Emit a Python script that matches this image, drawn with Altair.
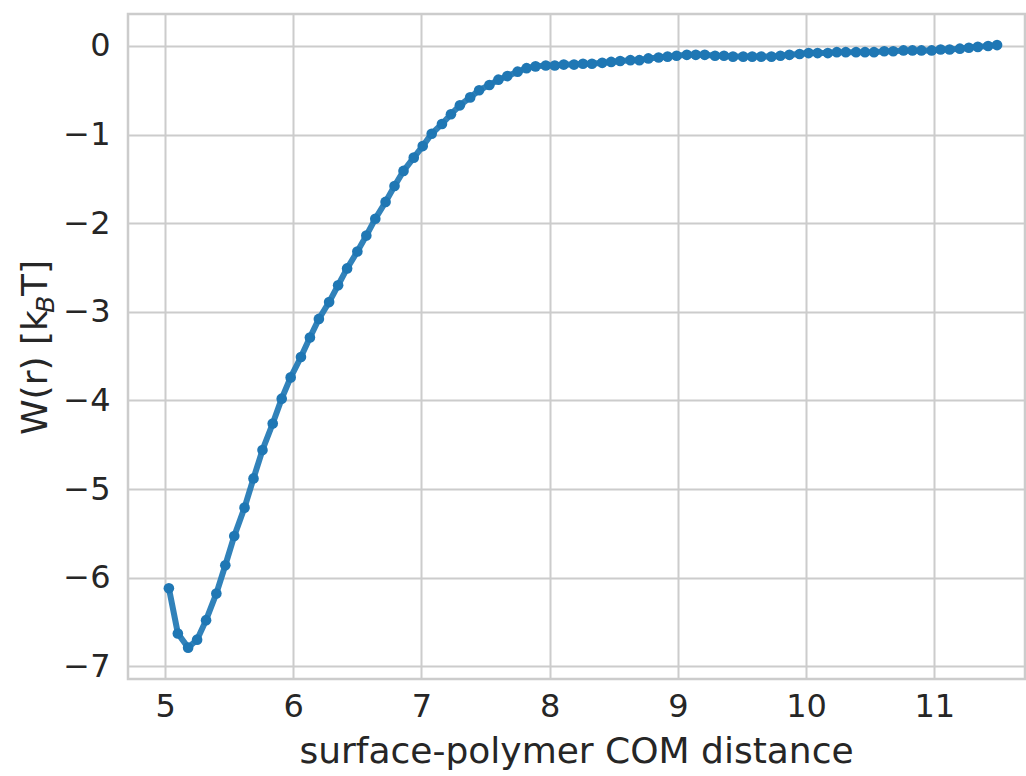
import altair as alt
import pandas as pd

# data
x_vals = [5.03, 5.10, 5.18, 5.25, 5.32, 5.40, 5.47, 5.54, 5.62, 5.69,
          5.76, 5.84, 5.91, 5.98, 6.06, 6.13, 6.20, 6.28, 6.35, 6.42,
          6.50, 6.57, 6.64, 6.72, 6.79, 6.86, 6.94, 7.01, 7.08, 7.16,
          7.23, 7.30, 7.38, 7.45, 7.53, 7.60, 7.67, 7.75, 7.82, 7.89,
          7.97, 8.04, 8.11, 8.19, 8.26, 8.33, 8.41, 8.48, 8.55, 8.63,
          8.70, 8.77, 8.85, 8.92, 8.99, 9.07, 9.14, 9.21, 9.29, 9.36,
          9.43, 9.51, 9.58, 9.65, 9.73, 9.80, 9.87, 9.95, 10.02, 10.09,
          10.17, 10.24, 10.31, 10.39, 10.46, 10.53, 10.61, 10.68, 10.76, 10.83,
          10.90, 10.98, 11.05, 11.12, 11.20, 11.27, 11.34, 11.42, 11.49]
w_vals = [-6.12, -6.63, -6.79, -6.70, -6.48, -6.18, -5.86, -5.53, -5.21, -4.88,
          -4.56, -4.26, -3.98, -3.74, -3.51, -3.29, -3.08, -2.89, -2.70, -2.51,
          -2.32, -2.14, -1.95, -1.76, -1.58, -1.41, -1.26, -1.13, -0.99, -0.88,
          -0.77, -0.67, -0.58, -0.50, -0.44, -0.38, -0.34, -0.29, -0.25, -0.23,
          -0.22, -0.22, -0.21, -0.21, -0.20, -0.20, -0.19, -0.18, -0.17, -0.16,
          -0.16, -0.14, -0.13, -0.12, -0.11, -0.10, -0.10, -0.10, -0.11, -0.11,
          -0.12, -0.12, -0.12, -0.12, -0.12, -0.11, -0.10, -0.09, -0.08, -0.08,
          -0.08, -0.07, -0.07, -0.07, -0.07, -0.07, -0.06, -0.06, -0.05, -0.05,
          -0.05, -0.05, -0.04, -0.04, -0.03, -0.02, -0.01, 0.00, 0.01]
x_ticks = [5, 6, 7, 8, 9, 10, 11]
y_ticks = [0, -1, -2, -3, -4, -5, -6, -7]

df = pd.DataFrame({"r": x_vals, "W": w_vals})

BLUE = "#1f77b4"
TEXT = "#262626"
FONT = "DejaVu Sans"

xenc = alt.X("r:Q",
             scale=alt.Scale(domain=[4.711, 11.708], nice=False, zero=False),
             axis=alt.Axis(values=x_ticks, title=None, labelPadding=12))
yenc = alt.Y("W:Q",
             scale=alt.Scale(domain=[-7.144, 0.361], nice=False, zero=False),
             axis=alt.Axis(values=y_ticks, title=None, labelPadding=18))

base = alt.Chart(df)
line = base.mark_line(color=BLUE, strokeWidth=6, strokeOpacity=0.92).encode(x=xenc, y=yenc)
pts = base.mark_circle(color=BLUE, size=113, opacity=1).encode(x=xenc, y=yenc)

one = pd.DataFrame({"k": [0]})
txt_style = dict(font=FONT, color=TEXT, fontSize=36)

ytitle1 = alt.Chart(one).mark_text(text="W(r) [k", angle=270, align="left",
                                   baseline="alphabetic", **txt_style).encode(
    x=alt.value(-81), y=alt.value(421))
ytitle2 = alt.Chart(one).mark_text(text="B", angle=270, align="left",
                                   baseline="alphabetic", font=FONT, color=TEXT,
                                   fontSize=25.2, fontStyle="italic").encode(
    x=alt.value(-74), y=alt.value(299))
ytitle3 = alt.Chart(one).mark_text(text="T]", angle=270, align="left",
                                   baseline="alphabetic", **txt_style).encode(
    x=alt.value(-81), y=alt.value(282))
xtitle = alt.Chart(one).mark_text(text="surface-polymer COM distance", align="center",
                                  baseline="alphabetic", **txt_style).encode(
    x=alt.value(448.5), y=alt.value(749))

chart = alt.layer(line, pts, ytitle1, ytitle2, ytitle3, xtitle).properties(
    width=897, height=665,
    autosize=alt.AutoSizeParams(type="none"),
    padding={"left": 128, "top": 14, "right": 1, "bottom": 97},
    background="white",
).configure_view(
    stroke="#cccccc", strokeWidth=2.5
).configure_axis(
    grid=True, gridColor="#cccccc", gridWidth=2,
    domain=False, ticks=False,
    labelFont=FONT, labelFontSize=32, labelColor=TEXT,
)

chart.save("out.html", embed_options={"renderer": "svg", "actions": False})
